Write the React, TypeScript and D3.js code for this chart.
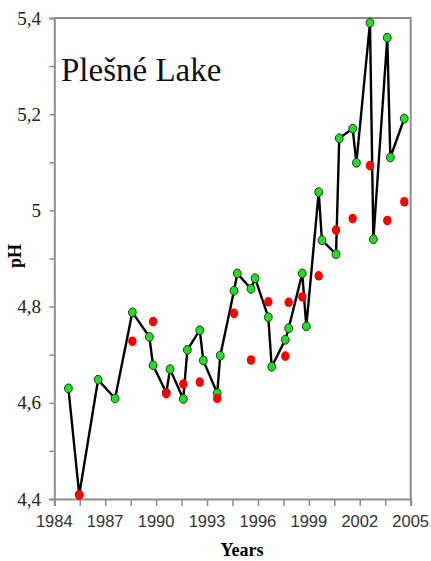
import { useEffect, useRef } from 'react';
import * as d3 from 'd3';

// measured series (green = line with markers, red = second series)
const greenYears = [
  1984.83, 1985.47, 1986.58, 1987.58, 1988.6, 1989.6, 1989.82, 1990.6, 1990.82,
  1991.6, 1991.84, 1992.57, 1992.78, 1993.6, 1993.78, 1994.59, 1994.78, 1995.59,
  1995.83, 1996.61, 1996.81, 1997.61, 1997.81, 1998.61, 1998.85, 1999.58, 1999.77,
  2000.6, 2000.79, 2001.58, 2001.8, 2002.6, 2002.8, 2003.62, 2003.8, 2004.62,
];
const greenPH = [
  4.63, 4.409, 4.648, 4.609, 4.788, 4.737, 4.678, 4.621, 4.67,
  4.608, 4.71, 4.751, 4.688, 4.62, 4.698, 4.833, 4.869, 4.837,
  4.859, 4.778, 4.675, 4.731, 4.755, 4.869, 4.759, 5.038, 4.938,
  4.909, 5.15, 5.17, 5.099, 5.39, 4.94, 5.359, 5.11, 5.191,
];
const redYears = [
  1985.47, 1988.6, 1989.82, 1990.6, 1991.6, 1992.57, 1993.6, 1994.59, 1995.59,
  1996.61, 1997.61, 1997.81, 1998.61, 1999.58, 2000.6, 2001.58, 2002.6, 2003.62, 2004.62,
];
const redPH = [
  4.408, 4.728, 4.769, 4.619, 4.639, 4.643, 4.609, 4.786, 4.689,
  4.81, 4.697, 4.809, 4.82, 4.864, 4.959, 4.983, 5.093, 4.979, 5.018,
];
const xTickLabels = [1984, 1987, 1990, 1993, 1996, 1999, 2002, 2005];
const yTickLabels = [4.4, 4.6, 4.8, 5.0, 5.2, 5.4];

export default function App() {
  const svgRef = useRef<SVGSVGElement | null>(null);

  useEffect(() => {
    if (!svgRef.current) return;
    const svg = d3.select(svgRef.current);
    svg.selectAll('*').remove();

    const x = d3.scaleLinear().domain([1984, 2005]).range([54.3, 410.7]);
    const y = d3.scaleLinear().domain([4.4, 5.4]).range([499, 18]);
    const frame = '#8c8c8c';

    // frame top / right
    svg.append('path')
      .attr('d', `M${x(1984)},${y(5.4)}H${x(2005)}V${y(4.4)}`)
      .attr('fill', 'none')
      .attr('stroke', frame)
      .attr('stroke-width', 2);

    // y axis
    const yAxis = svg.append('g')
      .attr('transform', `translate(${x(1984)},0)`)
      .call(d3.axisLeft(y).tickValues(d3.range(4.4, 5.41, 0.1)).tickSize(5).tickFormat(() => ''));
    yAxis.select('.domain').attr('stroke', frame).attr('stroke-width', 2);
    yAxis.selectAll('line').attr('stroke', frame).attr('stroke-width', 1.5);

    svg.append('g')
      .selectAll('text')
      .data(yTickLabels)
      .enter().append('text')
      .attr('x', 41)
      .attr('y', d => y(d))
      .attr('dy', '0.35em')
      .attr('text-anchor', 'end')
      .style('font-family', '"Liberation Serif", serif')
      .style('font-size', '19px')
      .style('fill', '#222')
      .text(d => d3.format('.1f')(d).replace('.0', '').replace('.', ','));

    // x axis
    const xAxis = svg.append('g')
      .attr('transform', `translate(0,${y(4.4)})`)
      .call(d3.axisBottom(x).tickValues(d3.range(1984, 2005.1, 1.5)).tickSize(7).tickFormat(() => ''));
    xAxis.select('.domain').attr('stroke', frame).attr('stroke-width', 2);
    xAxis.selectAll('line').attr('stroke', frame).attr('stroke-width', 1.5);

    svg.append('g')
      .selectAll('text')
      .data(xTickLabels)
      .enter().append('text')
      .attr('x', d => x(d))
      .attr('y', 527)
      .attr('text-anchor', 'middle')
      .style('font-family', '"Liberation Sans", sans-serif')
      .style('font-size', '16.5px')
      .style('fill', '#333')
      .text(d => d);

    // axis titles
    svg.append('text')
      .attr('x', 242)
      .attr('y', 556)
      .attr('text-anchor', 'middle')
      .style('font-family', '"Liberation Serif", serif')
      .style('font-weight', 'bold')
      .style('font-size', '18px')
      .text('Years');

    svg.append('text')
      .attr('transform', 'translate(21,256) rotate(-90)')
      .attr('text-anchor', 'middle')
      .style('font-family', '"Liberation Serif", serif')
      .style('font-weight', 'bold')
      .style('font-size', '18px')
      .text('pH');

    // chart title
    svg.append('text')
      .attr('x', 61)
      .attr('y', 81)
      .style('font-family', '"Liberation Serif", serif')
      .style('font-size', '33px')
      .style('fill', '#111')
      .text('Plešné Lake');

    const green = greenYears.map((yr, i) => ({ yr, ph: greenPH[i] }));
    const red = redYears.map((yr, i) => ({ yr, ph: redPH[i] }));

    const line = d3.line<{ yr: number; ph: number }>()
      .x(d => x(d.yr))
      .y(d => y(d.ph));

    svg.append('path')
      .datum(green)
      .attr('d', line)
      .attr('fill', 'none')
      .attr('stroke', '#000')
      .attr('stroke-width', 2.4)
      .attr('stroke-linejoin', 'miter');

    svg.append('g')
      .selectAll('ellipse')
      .data(green)
      .enter().append('ellipse')
      .attr('cx', d => x(d.yr))
      .attr('cy', d => y(d.ph))
      .attr('rx', 3.9)
      .attr('ry', 4.4)
      .attr('fill', '#22dd22')
      .attr('stroke', '#1a3a1a')
      .attr('stroke-width', 1);

    svg.append('g')
      .selectAll('ellipse')
      .data(red)
      .enter().append('ellipse')
      .attr('cx', d => x(d.yr))
      .attr('cy', d => y(d.ph))
      .attr('rx', 4.2)
      .attr('ry', 4.8)
      .attr('fill', '#ff0000');
  }, []);

  return (
    <div style={{ position: 'absolute', left: 0, top: 0 }}>
      <svg ref={svgRef} width={431} height={561} style={{ display: 'block', background: '#fff' }} />
    </div>
  );
}
